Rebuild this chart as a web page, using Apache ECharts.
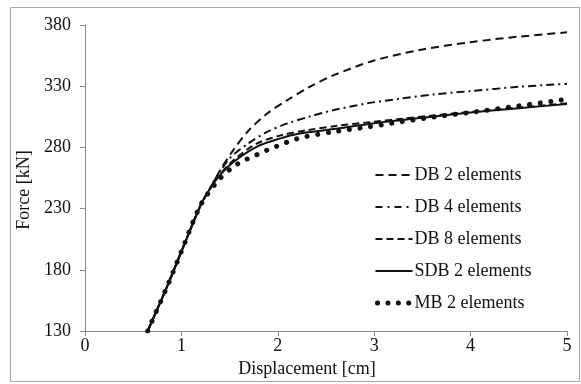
<!DOCTYPE html>
<html>
<head>
<meta charset="utf-8">
<script src="https://cdn.jsdelivr.net/npm/echarts@6/dist/echarts.min.js"></script>
<style>html,body{margin:0;padding:0;background:#fff;}#c{width:581px;height:384px;}</style>
</head>
<body>
<div id="c"></div>
<script>
var seriesNames = ['DB 2 elements', 'DB 4 elements', 'DB 8 elements', 'SDB 2 elements', 'MB 2 elements'];
var xTicks = [0, 1, 2, 3, 4, 5];
var yTicks = [130, 180, 230, 280, 330, 380];

var db2X = [0.65, 0.85, 1.0, 1.2, 1.26, 1.33, 1.403, 1.54, 1.70, 1.89, 2.10, 2.32, 2.58, 3.0, 3.5, 4.0, 4.5, 5.0];
var db2Y = [130, 166, 195, 233, 241.5, 251, 261.6, 278, 294, 307.7, 318.7, 329, 339, 351, 360, 366, 370.5, 374];

var db4X = [0.65, 0.85, 1.0, 1.2, 1.26, 1.35, 1.507, 1.70, 1.89, 2.10, 2.32, 2.58, 2.93, 3.27, 3.62, 4.0, 4.5, 5.0];
var db4Y = [130, 166, 195, 233, 241.5, 254, 271.5, 283.5, 292.7, 299.6, 305, 310.5, 316, 319.8, 323.3, 326, 329.5, 332];

var db8X = [0.65, 0.85, 1.0, 1.2, 1.26, 1.37, 1.54, 1.78, 2.04, 2.3, 2.6, 3.0, 3.3, 3.6, 4.0, 4.5, 5.0];
var db8Y = [130, 166, 195, 233, 241.5, 255, 269.5, 283, 290, 294, 297.5, 301, 303.5, 306, 309, 312.5, 316];

var sdbX = [0.65, 0.85, 1.0, 1.2, 1.26, 1.37, 1.54, 1.78, 2.03, 2.2, 2.58, 2.93, 3.27, 3.62, 4.0, 4.5, 5.0];
var sdbY = [130, 166, 195, 233, 241.5, 254.5, 268, 280.5, 287.4, 291, 295, 299, 302.2, 305.3, 308.5, 312, 315.5];

var mbX = [0.65, 0.85, 1.0, 1.2, 1.386, 1.54, 1.646, 1.75, 1.85, 1.96, 2.06, 2.16, 2.27, 2.58, 2.93, 3.27, 3.62, 4.04, 4.49, 4.92, 5.0];
var mbY = [130, 166, 195, 233, 253.4, 264.3, 269.2, 272.8, 276.5, 280, 283.2, 286, 288.5, 292.8, 296.6, 300.8, 304.8, 309, 313.8, 318.5, 319];

function pairs(xs, ys) { return xs.map(function (x, i) { return [x, ys[i]]; }); }

var FONT = "'Liberation Serif', 'Times New Roman', serif";
var chart = echarts.init(document.getElementById('c'), null, {renderer: 'canvas'});

function lineSeries(name, xs, ys, ls) {
  return {
    name: name, type: 'line', data: pairs(xs, ys), symbol: 'none', smooth: 0.3,
    lineStyle: Object.assign({color: '#111', width: 2}, ls), itemStyle: {color: '#111'}
  };
}

chart.setOption({
  animation: false,
  backgroundColor: '#fff',
  textStyle: {fontFamily: FONT},
  grid: {left: 85, right: 14, top: 25, bottom: 53, containLabel: false},
  graphic: [{
    type: 'rect', shape: {x: 10.5, y: 7.5, width: 569, height: 374},
    style: {fill: null, stroke: '#a8a8a8', lineWidth: 1}, silent: true, z: -1
  }],
  xAxis: {
    type: 'value', min: xTicks[0], max: xTicks[xTicks.length - 1], interval: 1,
    name: 'Displacement [cm]', nameLocation: 'middle', nameGap: 20,
    nameTextStyle: {fontFamily: FONT, fontSize: 18, color: '#111', padding: [0, 38, 0, 0]},
    axisLine: {show: true, onZero: false, lineStyle: {color: '#8c8c8c', width: 1}},
    axisTick: {show: true, length: 5, lineStyle: {color: '#8c8c8c'}},
    axisLabel: {fontFamily: FONT, fontSize: 18, color: '#111', margin: 6},
    splitLine: {show: false}
  },
  yAxis: {
    type: 'value', min: yTicks[0], max: yTicks[yTicks.length - 1], interval: 50,
    name: 'Force [kN]', nameLocation: 'middle', nameGap: 50,
    nameTextStyle: {fontFamily: FONT, fontSize: 18, color: '#111', padding: [0, 24, 0, 0]},
    axisLine: {show: true, onZero: false, lineStyle: {color: '#8c8c8c', width: 1}},
    axisTick: {show: true, length: 5, lineStyle: {color: '#8c8c8c'}},
    axisLabel: {fontFamily: FONT, fontSize: 18, color: '#111', margin: 14},
    splitLine: {show: false}
  },
  legend: {
    orient: 'vertical', left: 368, top: 161, itemWidth: 37, itemHeight: 14, itemGap: 14,
    itemStyle: {opacity: 0, borderWidth: 0},
    textStyle: {fontFamily: FONT, fontSize: 18, color: '#111', padding: [0, 0, 0, -3]},
    data: [
      {name: seriesNames[0]},
      {name: seriesNames[1], lineStyle: {type: [7, 5, 2, 5]}},
      {name: seriesNames[2]},
      {name: seriesNames[3]},
      {name: seriesNames[4], lineStyle: {width: 5, type: [0.1, 10.3], cap: 'round', dashOffset: -2}}
    ]
  },
  series: [
    lineSeries(seriesNames[0], db2X, db2Y, {type: [8, 5]}),
    lineSeries(seriesNames[1], db4X, db4Y, {type: [8, 4, 2, 4]}),
    lineSeries(seriesNames[2], db8X, db8Y, {type: [7, 4]}),
    lineSeries(seriesNames[3], sdbX, sdbY, {type: 'solid', width: 2}),
    lineSeries(seriesNames[4], mbX, mbY, {type: [0.1, 10.6], cap: 'round', width: 5})
  ]
});
</script>
</body>
</html>
